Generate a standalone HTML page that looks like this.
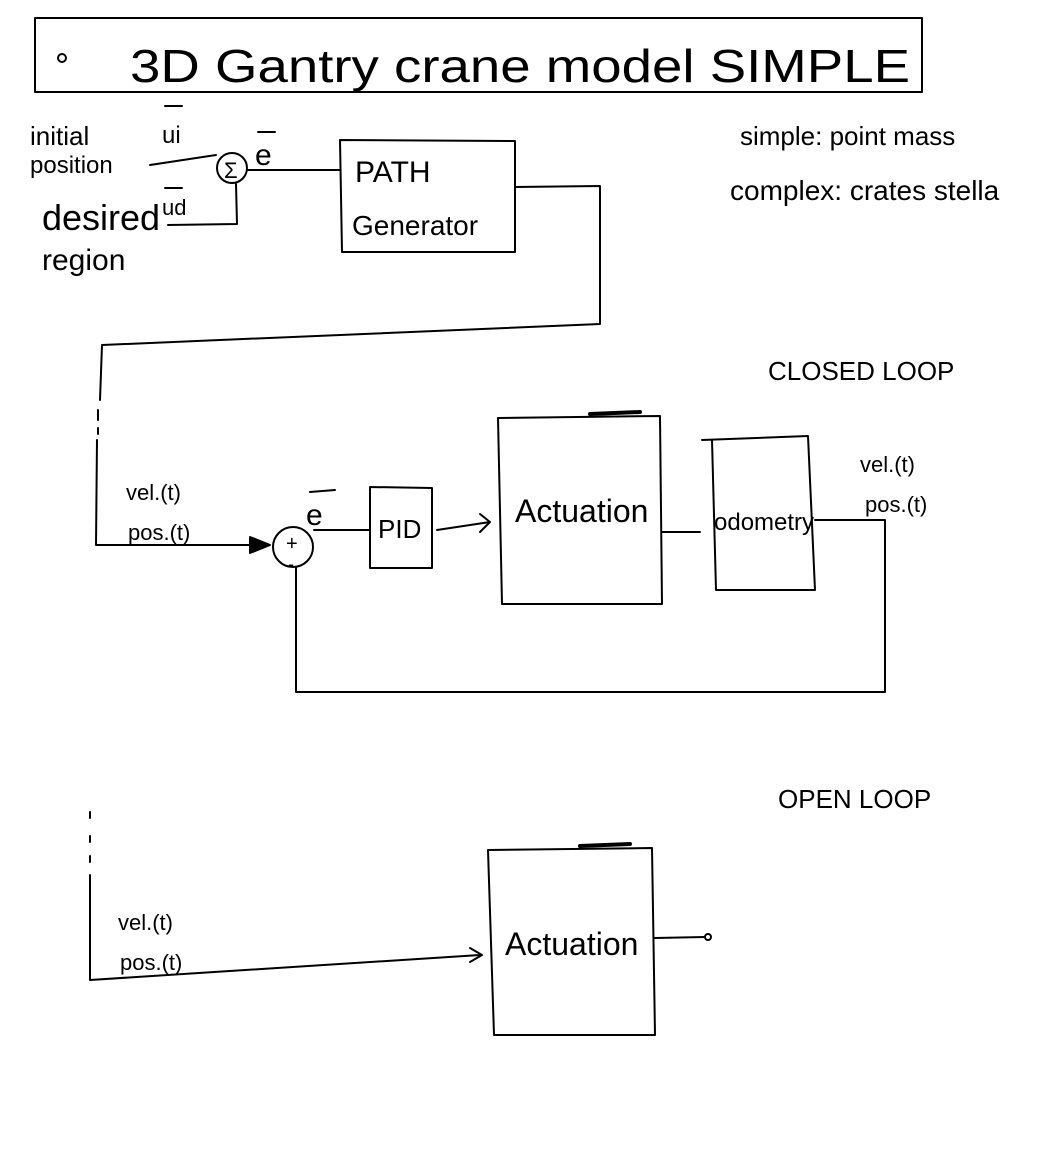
<!DOCTYPE html>
<html><head><meta charset="utf-8"><style>
html,body{margin:0;padding:0;background:#fff;}
svg{display:block;}
text{font-family:"Liberation Sans",sans-serif;fill:#000;}
</style></head><body>
<svg width="1060" height="1160" viewBox="0 0 1060 1160" xmlns="http://www.w3.org/2000/svg" fill="none" stroke="#000" stroke-width="2" stroke-linecap="round" stroke-linejoin="round">
<!-- title -->
<rect x="35" y="18" width="887" height="74"/>
<circle cx="62" cy="58" r="4"/>
<text x="130" y="82" font-size="46" stroke="none" textLength="780" lengthAdjust="spacingAndGlyphs">3D Gantry crane model SIMPLE</text>

<!-- top-left labels -->
<text x="30" y="145" font-size="26" stroke="none">initial</text>
<text x="30" y="173" font-size="24" stroke="none">position</text>
<text x="42" y="230" font-size="36" stroke="none">desired</text>
<text x="42" y="270" font-size="30" stroke="none">region</text>
<text x="162" y="143" font-size="24" stroke="none">ui</text>
<path d="M165 106 L182 106"/>
<text x="162" y="215" font-size="22" stroke="none">ud</text>
<path d="M165 188 L182 188"/>
<circle cx="232" cy="168" r="15"/>
<text x="224" y="178" font-size="22" stroke="none">Σ</text>
<text x="255" y="165" font-size="30" stroke="none">e</text>
<path d="M258 132 L275 132"/>
<path d="M150 165 L216 155"/>
<path d="M168 225 L237 224 L236 184"/>
<path d="M247 170 L340 170"/>

<!-- path generator -->
<path d="M340 140 L515 141 L515 252 L342 252 Z"/>
<text x="355" y="182" font-size="30" stroke="none">PATH</text>
<text x="352" y="235" font-size="28" stroke="none">Generator</text>
<path d="M515 187 L600 186 L600 324 L102 345 L100 400"/>
<path d="M98 410 L98 420 M98 428 L98 434"/>
<path d="M97 440 L96 545 L262 545"/>
<path d="M250 537 L270 545 L250 553 Z" fill="#000"/>

<!-- right notes -->
<text x="740" y="145" font-size="26" stroke="none">simple: point mass</text>
<text x="730" y="200" font-size="28" stroke="none">complex: crates stella</text>
<text x="768" y="380" font-size="26" stroke="none">CLOSED LOOP</text>

<!-- closed loop -->
<text x="126" y="500" font-size="22" stroke="none">vel.(t)</text>
<text x="128" y="540" font-size="22" stroke="none">pos.(t)</text>
<circle cx="293" cy="547" r="20"/>
<text x="286" y="550" font-size="20" stroke="none">+</text>
<text x="288" y="570" font-size="18" stroke="none">-</text>
<text x="306" y="525" font-size="30" stroke="none">e</text>
<path d="M310 492 L335 490"/>
<path d="M314 530 L370 530"/>
<path d="M370 487 L432 488 L432 568 L370 568 Z"/>
<text x="378" y="538" font-size="26" stroke="none">PID</text>
<path d="M437 530 L490 522 M480 514 L490 522 L480 532"/>
<path d="M498 418 L660 416 L662 604 L502 604 Z"/>
<path d="M590 414 L640 412" stroke-width="4"/>
<text x="515" y="522" font-size="32" stroke="none">Actuation</text>
<path d="M662 532 L700 532"/>
<path d="M702 440 L808 436 L815 590 L716 590 L712 440"/>
<text x="714" y="530" font-size="24" stroke="none">odometry</text>
<text x="860" y="472" font-size="22" stroke="none">vel.(t)</text>
<text x="865" y="512" font-size="22" stroke="none">pos.(t)</text>
<path d="M815 520 L885 520 L885 692 L296 692 L296 567"/>

<!-- open loop -->
<text x="778" y="808" font-size="26" stroke="none">OPEN LOOP</text>
<path d="M90 812 L90 818 M90 836 L90 842 M90 856 L90 862"/>
<path d="M90 875 L90 980 L480 955"/>
<path d="M470 948 L482 955 L470 962"/>
<text x="118" y="930" font-size="22" stroke="none">vel.(t)</text>
<text x="120" y="970" font-size="22" stroke="none">pos.(t)</text>
<path d="M488 850 L652 848 L655 1035 L494 1035 Z"/>
<path d="M580 846 L630 844" stroke-width="4"/>
<text x="505" y="955" font-size="32" stroke="none">Actuation</text>
<path d="M655 938 L705 937"/>
<circle cx="708" cy="937" r="3"/>
</svg>
</body></html>
